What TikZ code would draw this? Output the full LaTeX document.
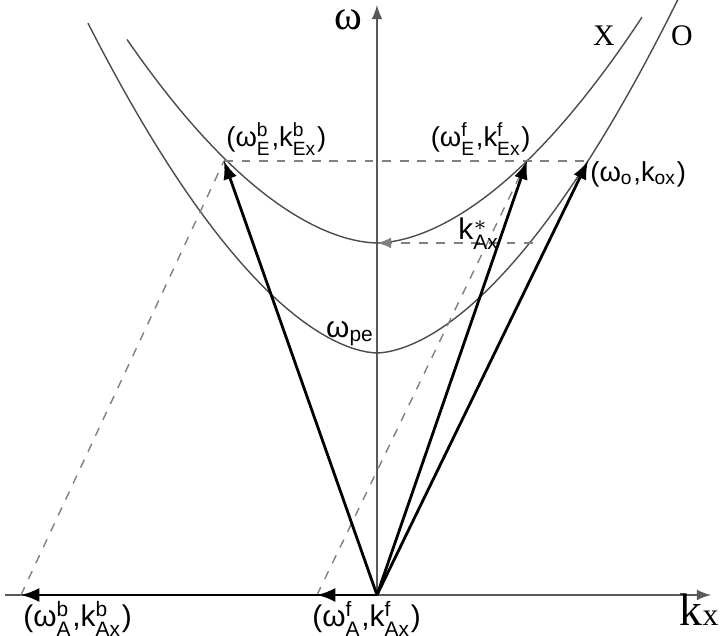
\documentclass[tikz,border=0pt]{standalone}
\usepackage{amsmath}
\usepackage{fontspec}
\setmainfont{Liberation Sans}
\newfontfamily\serf{Liberation Serif}
\newcommand{\wk}[4]{(ω$^{\text{#1}}_{\text{#2}}$,k$^{\text{#3}}_{\text{#4}}$)}

\begin{document}
\begin{tikzpicture}[>=latex,
        axis/.style={gray!70!black, line width=.4pt},
        disp/.style={black!70, line width=.4pt},
        wave/.style={->, line width=.8pt},
        guide/.style={gray, dash pattern=on 2.5pt off 2.5pt, line width=.4pt},
        lbl/.style={inner sep=.5pt, font=\fontsize{8.5}{10}\selectfont},
        lblE/.style={inner sep=.5pt, font=\fontsize{7.8}{9}\selectfont}]
        \useasboundingbox (-3.77,-0.41) rectangle (3.46,5.95);
        % points of the picture
        \coordinate (O) at (0,0);
        \coordinate (xl) at (-3.72,0);
        \coordinate (xr) at (3.34,0);
        \coordinate (yt) at (0,5.90);
        \coordinate (Eb) at (-1.53,4.34);
        \coordinate (Ef) at (1.50,4.34);
        \coordinate (Oo) at (2.11,4.34);
        \coordinate (Ab) at (-3.56,0);
        \coordinate (Af) at (-0.60,0);
        \coordinate (Ks) at (1.56,3.52);
        \coordinate (Kv) at (0,3.52);
        % axes
        \draw[axis, ->] (xl) -- (xr);
        \draw[axis, ->] (O) -- (yt);
        \node[font=\serf\fontsize{13}{14}\selectfont] (kx) at (3.22,-0.15) {k\fontsize{9}{10}\selectfont x};
        \node[font=\serf\fontsize{12}{12}\selectfont, inner sep=0pt] (om) at (-0.29,5.75) {ω};
        % dispersion curves
        \draw[disp] plot[domain=-2.5:2.65, samples=90] (\x, {3.52+0.3984*(abs(\x)+0.0001)^1.78});
        \draw[disp] plot[domain=-2.89:3.03, samples=90] (\x, {2.42+0.5315*(abs(\x)+0.0001)^1.72});
        \node[font=\serf\fontsize{8.5}{10}\selectfont] (xm) at (2.27,5.59) {X};
        \node[font=\serf\fontsize{8.5}{10}\selectfont] (om) at (3.05,5.59) {O};
        \node[lbl, anchor=south east] (wpe) at (0,2.47) {ω\textsubscript{pe}};
        % dashed guides
        \draw[guide] (Eb) -- (Oo);
        \draw[guide] (Ab) -- (Eb);
        \draw[guide] (Af) -- (Ef);
        \draw[guide, ->] (Ks) -- (Kv);
        \node[lbl, anchor=base east] (ks) at (1.25,3.55) {k$^{*}_{\text{Ax}}$};
        % wave vectors
        \draw[wave] (O) -- (Eb);
        \draw[wave] (O) -- (Ef);
        \draw[wave] (O) -- (Oo);
        \draw[wave] (O) -- (Ab);
        \draw[wave] (O) -- (Af);
        % labels
        \node[lblE, anchor=south west] (lEb) at ([yshift=.03cm]Eb) {\wk{b}{E}{b}{Ex}};
        \node[lblE, anchor=south east] (lEf) at ([xshift=.06cm,yshift=.03cm]Ef) {\wk{f}{E}{f}{Ex}};
        \node[lblE, anchor=north west] (lOo) at ([yshift=.02cm]Oo) {(ω$_{\text{o}}$,k$_{\text{ox}}$)};
        \node[lbl, anchor=north west] (lAb) at ([yshift=-.04cm]Ab) {\wk{b}{A}{b}{Ax}};
        \node[lbl, anchor=north west] (lAf) at ([xshift=-.07cm,yshift=-.04cm]Af) {\wk{f}{A}{f}{Ax}};
    \end{tikzpicture}
\end{document}
